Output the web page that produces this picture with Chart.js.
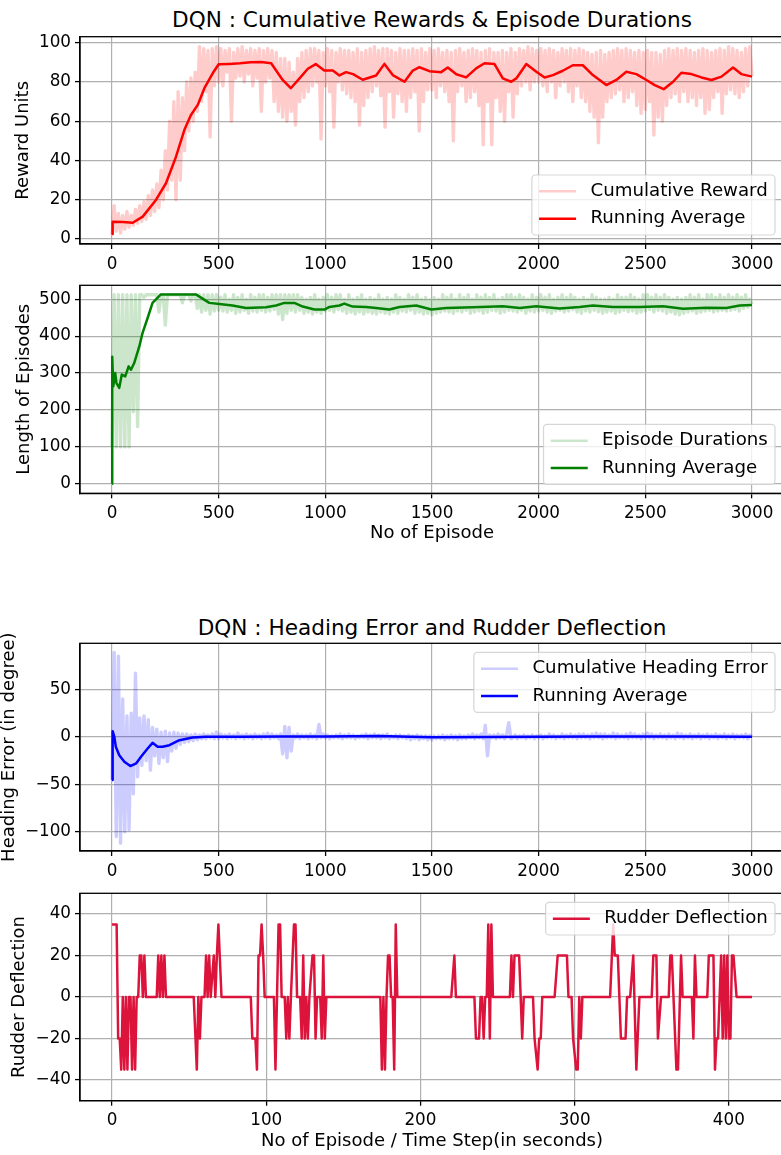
<!DOCTYPE html>
<html>
<head>
<meta charset="utf-8">
<script src="https://cdn.jsdelivr.net/npm/chart.js@4.4.1/dist/chart.umd.min.js"></script>
<style>
  html, body { margin: 0; padding: 0; background: #fff; overflow: hidden; }
  #fig { position: relative; width: 781px; height: 1155px; overflow: hidden; font-family: "DejaVu Sans", sans-serif; }
  #fig canvas { position: absolute; left: 0; }
  .title { position: absolute; left: 132px; width: 600px; text-align: center; font-size: 21.6px; line-height: 21.6px; color: #000; white-space: nowrap; }
</style>
</head>
<body>
<div id="fig">
  <div class="title" style="top:9px">DQN : Cumulative Rewards &amp; Episode Durations</div>
  <canvas id="rewardChart" width="800" height="265" style="top:20px"></canvas>
  <canvas id="durationChart" width="800" height="285" style="top:265px"></canvas>
  <div class="title" style="top:617px">DQN : Heading Error and Rudder Deflection</div>
  <canvas id="headingChart" width="800" height="285" style="top:600px"></canvas>
  <canvas id="rudderChart" width="800" height="285" style="top:870px"></canvas>
</div>
<script>
// ---------------------
// Data
// ---------------------
// raw per-episode series are kept every 10 episodes
const rawEvery = 10;
const episodeTicks = [0, 500, 1000, 1500, 2000, 2500, 3000];

const rewardTicks = [0, 20, 40, 60, 80, 100];
const rewardRaw = [
  2, 17, 4, 13, 3, 12, 5, 14, 6, 12,
  7, 15, 8, 17, 9, 19, 10, 22, 12, 25,
  14, 28, 16, 35, 20, 45, 25, 60, 30, 70,
  20, 75, 30, 72, 45, 80, 55, 82, 60, 85,
  65, 98, 70, 97, 75, 96, 52, 97, 78, 98,
  80, 97, 78, 96, 85, 97, 60, 95, 82, 97,
  83, 98, 80, 96, 84, 97, 78, 96, 82, 97,
  65, 96, 80, 97, 82, 96, 70, 95, 65, 92,
  62, 92, 60, 90, 65, 85, 58, 92, 70, 95,
  72, 96, 75, 97, 78, 97, 80, 96, 51, 95,
  78, 97, 75, 96, 57, 95, 80, 97, 76, 96,
  74, 96, 72, 95, 70, 97, 58, 95, 68, 96,
  72, 97, 75, 98, 78, 96, 73, 97, 57, 97,
  75, 96, 62, 95, 74, 97, 70, 96, 65, 96,
  72, 97, 75, 96, 55, 97, 70, 95, 76, 97,
  76, 96, 72, 97, 78, 95, 75, 96, 70, 95,
  50, 96, 75, 97, 78, 95, 70, 96, 72, 97,
  75, 96, 68, 95, 48, 96, 70, 97, 48, 95,
  72, 95, 65, 96, 60, 95, 75, 97, 62, 95,
  74, 97, 78, 96, 80, 98, 76, 97, 80, 96,
  80, 97, 78, 96, 75, 97, 80, 96, 72, 95,
  78, 97, 80, 96, 75, 97, 70, 96, 78, 97,
  72, 96, 70, 95, 65, 94, 62, 95, 49, 96,
  62, 94, 70, 95, 72, 96, 74, 97, 76, 96,
  70, 97, 72, 96, 75, 95, 68, 96, 64, 95,
  66, 96, 70, 95, 53, 95, 62, 94, 60, 96,
  68, 97, 72, 96, 74, 97, 70, 96, 75, 97,
  70, 96, 72, 95, 68, 96, 72, 97, 64, 96,
  66, 95, 72, 96, 75, 97, 64, 96, 74, 98,
  76, 97, 74, 96, 72, 95, 75, 97, 78, 98,
  83
];
const rewardAvgEp = [0, 3, 50, 97, 144, 206, 253, 300, 339, 370, 402, 433, 472, 500, 550, 600, 650, 700, 746,
  800, 838, 878, 918, 955, 995, 1035, 1066, 1097, 1130, 1175, 1238, 1277, 1316, 1371, 1410, 1441, 1488,
  1543, 1574, 1614, 1660, 1707, 1746, 1793, 1832, 1871, 1895, 1942, 1989, 2028, 2067, 2113, 2160, 2207,
  2254, 2317, 2364, 2411, 2458, 2505, 2544, 2586, 2630, 2669, 2716, 2763, 2810, 2857, 2911, 2950, 3000];
const rewardAvg = [2.5, 8.8, 8.6, 8.3, 11.4, 19.9, 28.4, 41.9, 55.5, 63.2, 68.3, 76.8, 84.4, 89.0, 89.2, 89.5, 90.0, 90.2, 89.5,
  81, 76.8, 81.7, 86.7, 89.1, 85.8, 85.8, 83.3, 85, 84, 81.1, 83.3, 89.2, 83.5, 80.1, 85.8, 87.5, 85.5,
  85, 87.4, 83.9, 82.3, 86.9, 89.5, 89.1, 81.8, 80.1, 81.8, 89.1, 85.2, 82.3, 83.5, 85.7, 88.5, 88.5,
  83.5, 78.4, 81, 85.2, 84, 81, 78.4, 76.3, 80.1, 84.7, 84, 82.3, 81, 82.7, 87.4, 84, 82.7];

const durationTicks = [0, 100, 200, 300, 400, 500];
const durationRaw = [
  100, 512, 100, 512, 100, 512, 100, 512, 100, 512,
  195, 512, 155, 512, 512, 505, 512, 512, 512, 512,
  512, 512, 465, 512, 512, 430, 512, 512, 512, 512,
  512, 512, 512, 490, 512, 512, 512, 495, 512, 512,
  475, 512, 465, 512, 470, 512, 460, 512, 468, 512,
  470, 505, 468, 512, 465, 500, 470, 512, 462, 505,
  465, 512, 470, 500, 462, 512, 468, 505, 465, 512,
  470, 512, 465, 505, 468, 512, 472, 512, 460, 512,
  445, 512, 462, 512, 470, 512, 465, 512, 470, 505,
  462, 500, 465, 505, 460, 512, 465, 500, 462, 505,
  468, 512, 470, 505, 465, 512, 472, 512, 468, 500,
  462, 512, 465, 500, 460, 505, 465, 512, 460, 500,
  465, 505, 462, 500, 460, 512, 465, 500, 462, 505,
  460, 500, 465, 512, 462, 505, 468, 500, 465, 512,
  470, 505, 462, 512, 465, 500, 460, 505, 462, 498,
  458, 505, 462, 500, 465, 512, 468, 505, 465, 512,
  462, 500, 468, 512, 465, 505, 470, 512, 462, 500,
  465, 512, 468, 505, 462, 512, 465, 505, 470, 512,
  468, 500, 462, 505, 465, 512, 470, 512, 468, 505,
  465, 512, 470, 505, 462, 500, 468, 512, 465, 505,
  468, 512, 470, 505, 465, 512, 462, 500, 468, 505,
  470, 512, 465, 505, 468, 512, 472, 505, 465, 500,
  462, 505, 468, 500, 465, 512, 470, 505, 466, 500,
  462, 500, 465, 505, 468, 500, 462, 512, 465, 505,
  470, 505, 466, 512, 468, 505, 462, 500, 465, 512,
  468, 512, 472, 505, 465, 512, 470, 505, 468, 512,
  462, 505, 465, 500, 460, 505, 458, 500, 462, 505,
  465, 512, 468, 505, 462, 512, 465, 500, 468, 512,
  470, 512, 465, 505, 468, 512, 470, 505, 468, 512,
  470, 505, 472, 512, 468, 505, 475, 512, 478, 500,
  486
];
const durationAvgEp = [0, 1, 6, 15, 21, 34, 46, 62, 78, 89, 104, 128, 143, 167, 190, 214, 229, 393, 456, 503,
  565, 628, 722, 769, 808, 855, 894, 949, 996, 1019, 1066, 1089, 1128, 1191, 1238, 1300, 1348, 1426, 1497,
  1567, 1692, 1832, 1911, 1989, 2098, 2192, 2254, 2348, 2473, 2583, 2677, 2786, 2880, 2942, 3000];
const durationAvg = [0, 344, 264, 300, 273, 260, 296, 291, 318, 309, 327, 372, 408, 449, 490, 504, 513, 513, 490, 487,
  483, 476, 478, 483, 490, 490, 480, 472, 472, 479, 483, 488, 480, 479, 476, 472, 479, 483, 472,
  476, 478, 481, 476, 481, 475, 479, 483, 479, 479, 481, 474, 477, 476, 483, 484];

const headingTicks = [-100, -50, 0, 50];
const headingRaw = [
  -45, 89, -105, 85, -112, 40, -100, 22, -98, 25,
  -60, 67, -42, 20, -30, 22, -25, 18, -35, 10,
  -20, 8, -28, 5, -22, 6, -26, 4, -15, 5,
  -12, 4, -8, 3, -6, 3, -5, 2, -4, 3,
  -3, 2, -2, 3, -2, 2, -1, 3, -2, 5,
  -2, 3, -1, 2, -2, 3, -1, 2, -2, 4,
  -1, 2, -2, 3, -1, 2, -2, 3, -1, 2,
  -2, 3, -1, 4, -2, 3, -1, 2, -2, 3,
  -18, 11, -22, 10, -15, 2, -1, 3, -2, 2,
  -1, 2, -2, 3, -1, 2, -2, 13, -1, 3,
  -1, 2, -2, 1, -1, 2, -1, 3, -2, 2,
  -1, 3, -1, 2, -2, 1, -1, 2, -1, 3,
  -2, 2, -1, 3, -1, 2, -2, 2, -1, 3,
  -2, 1, -1, 2, -2, 2, -1, 1, -2, 2,
  -3, 1, -2, 2, -3, 1, -2, 1, -3, 1,
  -3, 1, -2, 1, -2, 2, -3, 1, -2, 2,
  -2, 1, -3, 2, -2, 1, -2, 2, -1, 3,
  -2, 2, -1, 3, -2, 12, -20, 2, -1, 2,
  -2, 3, -1, 2, -2, 3, 15, -2, -1, 2,
  -2, 1, -1, 2, -2, 1, -1, 2, -2, 1,
  -1, 2, -2, 1, -1, 3, -1, 2, -2, 1,
  -1, 3, -2, 2, -1, 3, -1, 2, -2, 3,
  -1, 3, -1, 2, -2, 3, -1, 4, -1, 3,
  -2, 3, -1, 2, -1, 4, -2, 3, -1, 2,
  -1, 3, -2, 4, -1, 3, -1, 2, -2, 3,
  -1, 4, -1, 3, -2, 2, -1, 3, -1, 2,
  -2, 3, -1, 2, -2, 4, -1, 3, -2, 2,
  -1, 3, -2, 2, -1, 3, -2, 2, -1, 3,
  -2, 2, -1, 3, -2, 2, -1, 3, -2, 2,
  -1, 3, -2, 2, -1, 2, -1, 3, -2, 2,
  0
];
const headingAvgEp = [0, 3, 11, 18, 34, 58, 86, 113, 136, 167, 190, 214, 237, 269, 316, 378, 440,
  600, 800, 1000, 1250, 1500, 1750, 2000, 2250, 2500, 2750, 3000];
const headingAvg = [-45.6, 6, 0, -10.5, -19.3, -26.3, -30.8, -28, -21, -12.3, -6.3, -10.5, -10.5, -8.8, -3.5, -0.7, 0,
  0, 0.3, 0.5, 0.8, -0.5, -0.2, 0, 0.3, 0.5, 0.3, 0];

// rudder angle per time step, listed at the steps where the trace turns
const stepTicks = [0, 100, 200, 300, 400];
const rudderTicks = [-40, -20, 0, 20, 40];
const rudderStep = [
  0, 3, 4, 5, 6, 7, 8, 9, 10, 11, 12, 13, 14, 15, 16, 17, 18, 19, 20, 21, 22,
  29, 30, 31, 32, 33, 34, 35, 53, 55, 56, 57, 58, 60, 61, 62, 63, 64, 66, 67, 68, 69, 71,
  90, 91, 93, 94, 95, 96, 97, 98, 99, 105, 106, 108, 109, 110, 112, 113, 114, 115, 116,
  118, 119, 120, 122, 123, 124, 125, 126, 127, 128, 130, 131, 132, 133, 135, 136, 137, 138, 139,
  174, 175, 176, 177, 178, 179, 180, 181, 182, 183, 184, 185, 220, 222, 223,
  235, 236, 238, 239, 240, 241, 242, 243, 244, 245, 246, 247, 258, 259, 260, 261, 264, 265, 266, 267,
  273, 274, 276, 277, 278, 279, 287, 289, 295, 296, 298, 299, 301, 302, 303, 304, 305,
  323, 325, 326, 328, 330, 333, 334, 336, 338, 340, 342, 350, 351, 353, 354, 356,
  361, 362, 363, 366, 367, 369, 370, 376, 377, 378, 379, 386, 387, 390, 391, 392, 393,
  395, 396, 397, 398, 399, 400, 401, 402, 403, 405, 415
];
const rudderAngle = [
  35, 35, -20, -20, -35, 0, -35, 0, -35, 0, 0, -35, 0, -35, 0, 0, 20, 20, 0, 20, 0,
  0, 20, 0, 20, 0, 20, 0, 0, -35, 0, -20, 0, 0, 20, 0, 20, 0, 20, 0, 20, 35, 0,
  0, -20, -20, -35, 20, 20, 35, 20, 0, 0, -35, 35, 35, 0, 0, -20, 0, -20, 0,
  35, 35, 0, 0, -20, 20, -20, 0, -20, 0, 20, 20, -20, 0, 0, -20, 20, -20, 0,
  0, -35, 0, -35, 0, 20, 20, 0, 0, -35, 35, 0, 0, 20, 0,
  0, -20, -20, 0, 0, -20, 0, 0, 35, -20, 35, 0, 0, 20, 0, 20, 20, 0, -20, 0,
  0, -20, -35, -20, -20, 0, 0, 20, 20, 0, 0, -20, -35, -35, 0, -20, 0,
  0, 35, 20, 20, -20, -20, 0, 0, 20, -35, 0, 0, 20, 20, -20, 0,
  0, 20, 20, -35, -35, 20, 0, 0, -20, 20, 0, 0, 20, 20, -35, -20, -20,
  20, -20, 20, -20, 20, -20, -20, 20, 20, 0, 0
];

// ---------------------
// Helpers
// ---------------------
const FONT = '"DejaVu Sans"';
const GRID = '#b0b0b0';

const pairs = (xs, ys) => ys.map((y, i) => ({ x: xs[i], y: y }));
const spaced = (ys, n) => ys.map((y, i) => ({ x: i * n, y: y }));
const tickText = v => String(v).replace('-', '\u2212');

// all four spines on top of the data
const frame = {
  id: 'frame',
  afterDatasetsDraw(chart) {
    const { ctx, chartArea: a } = chart;
    ctx.save();
    ctx.strokeStyle = '#000';
    ctx.lineWidth = 1.3;
    ctx.strokeRect(a.left, a.top, a.right - a.left, a.bottom - a.top);
    ctx.restore();
  }
};

// framed legend inside the plot area, right aligned
const boxLegend = {
  id: 'boxLegend',
  afterDatasetsDraw(chart, args, opts) {
    const { ctx, chartArea: a } = chart;
    const fs = 18.2, pad = 7.2, hLen = 37, hPad = 14.4, rowH = 18.3, gap = 9, inset = 9;
    const items = chart.data.datasets;
    ctx.save();
    ctx.font = fs + 'px ' + FONT;
    const tw = Math.max(...items.map(d => ctx.measureText(d.label).width));
    const w = 2 * pad + hLen + hPad + tw;
    const h = 2 * pad + items.length * rowH + (items.length - 1) * gap;
    const x = a.right - inset - w;
    const y = opts.corner === 'top' ? a.top + inset : a.bottom - inset - h;
    ctx.beginPath();
    ctx.roundRect(x, y, w, h, 3.6);
    ctx.fillStyle = 'rgba(255,255,255,0.8)';
    ctx.fill();
    ctx.strokeStyle = 'rgba(204,204,204,0.8)';
    ctx.lineWidth = 1.2;
    ctx.stroke();
    items.forEach((d, i) => {
      const cy = y + pad + rowH / 2 + i * (rowH + gap);
      ctx.beginPath();
      ctx.moveTo(x + pad, cy);
      ctx.lineTo(x + pad + hLen, cy);
      ctx.strokeStyle = d.borderColor;
      ctx.lineWidth = 2.5;
      ctx.stroke();
      ctx.fillStyle = '#000';
      ctx.textAlign = 'left';
      ctx.textBaseline = 'middle';
      ctx.fillText(d.label, x + pad + hLen + hPad, cy);
    });
    ctx.restore();
  }
};

function axis(min, max, ticks, fit, title, titlePad, tickPad) {
  return {
    type: 'linear',
    min: min,
    max: max,
    afterBuildTicks: s => { s.ticks = ticks.map(v => ({ value: v })); },
    afterFit: fit,
    grid: { color: GRID, lineWidth: 1.2, tickColor: '#000', tickLength: 5, tickWidth: 1.3 },
    border: { color: '#000', width: 1.3 },
    ticks: {
      color: '#000', padding: tickPad, maxRotation: 0, autoSkip: false,
      font: { family: FONT, size: 16.8, lineHeight: 1 },
      callback: tickText
    },
    title: {
      display: !!title, text: title || '', color: '#000',
      font: { family: FONT, size: 18, lineHeight: 1 },
      padding: titlePad
    }
  };
}

function plot(id, cfg) {
  return new Chart(document.getElementById(id), {
    type: 'line',
    data: { datasets: cfg.datasets },
    options: {
      responsive: false,
      animation: false,
      devicePixelRatio: 1,
      events: [],
      layout: { padding: { left: 0, right: 16, top: cfg.padTop, bottom: 0 } },
      elements: {
        point: { radius: 0 },
        line: { tension: 0, borderJoinStyle: 'round', fill: false }
      },
      plugins: {
        legend: { display: false },
        tooltip: { enabled: false },
        boxLegend: { corner: cfg.legendCorner }
      },
      scales: {
        x: axis(cfg.xMin, cfg.xMax, cfg.xTicks, s => { s.height = cfg.xHeight; },
          cfg.xTitle, { top: 0, bottom: cfg.xTitlePad || 0 }, 7),
        y: axis(cfg.yMin, cfg.yMax, cfg.yTicks, s => { s.width = 80; },
          cfg.yTitle, { top: cfg.yTitlePad, bottom: 0 }, 4)
      }
    },
    plugins: [frame, boxLegend]
  });
}

// ---------------------
// Charts
// ---------------------
plot('rewardChart', {
  padTop: 16.7, xHeight: 41, legendCorner: 'bottom',
  xMin: -150, xMax: 3150, xTicks: episodeTicks,
  yMin: -2.55, yMax: 103.05, yTicks: rewardTicks,
  yTitle: 'Reward Units', yTitlePad: 14.8,
  datasets: [
    { label: 'Cumulative Reward', data: spaced(rewardRaw, rawEvery), borderColor: 'rgba(255,0,0,0.2)', borderWidth: 3.4 },
    { label: 'Running Average', data: pairs(rewardAvgEp, rewardAvg), borderColor: '#ff0000', borderWidth: 2.5 }
  ]
});

plot('durationChart', {
  padTop: 20.3, xHeight: 56.7, legendCorner: 'bottom',
  xMin: -150, xMax: 3150, xTicks: episodeTicks,
  xTitle: 'No of Episode', xTitlePad: 8,
  yMin: -25.6, yMax: 537.6, yTicks: durationTicks,
  yTitle: 'Length of Episodes', yTitlePad: 15.5,
  datasets: [
    { label: 'Episode Durations', data: spaced(durationRaw, rawEvery), borderColor: 'rgba(0,128,0,0.2)', borderWidth: 3.4 },
    { label: 'Running Average', data: pairs(durationAvgEp, durationAvg), borderColor: '#008000', borderWidth: 2.5 }
  ]
});

plot('headingChart', {
  padTop: 43.3, xHeight: 34, legendCorner: 'top',
  xMin: -150, xMax: 3150, xTicks: episodeTicks,
  yMin: -120.3, yMax: 98.6, yTicks: headingTicks,
  yTitle: 'Heading Error (in degree)', yTitlePad: 0,
  datasets: [
    { label: 'Cumulative Heading Error', data: spaced(headingRaw, rawEvery), borderColor: 'rgba(0,0,255,0.2)', borderWidth: 3.4 },
    { label: 'Running Average', data: pairs(headingAvgEp, headingAvg), borderColor: '#0000ff', borderWidth: 2.5 }
  ]
});

plot('rudderChart', {
  padTop: 23.3, xHeight: 54.3, legendCorner: 'top',
  xMin: -20.75, xMax: 435.75, xTicks: stepTicks,
  xTitle: 'No of Episode / Time Step(in seconds)', xTitlePad: 5,
  yMin: -50, yMax: 50, yTicks: rudderTicks,
  yTitle: 'Rudder Deflection', yTitlePad: 10.5,
  datasets: [
    { label: 'Rudder Deflection', data: pairs(rudderStep, rudderAngle), borderColor: '#dc143c', borderWidth: 2.5 }
  ]
});
</script>
</body>
</html>
